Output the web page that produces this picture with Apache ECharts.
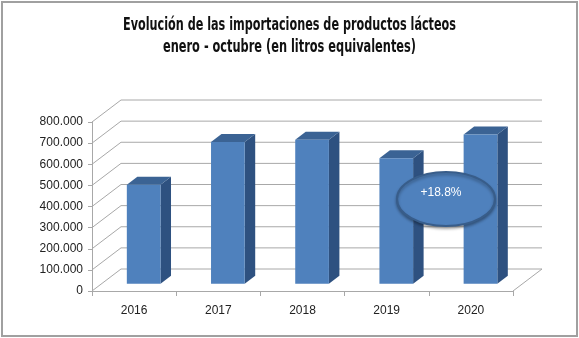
<!DOCTYPE html>
<html><head><meta charset="utf-8">
<script src="https://cdn.jsdelivr.net/npm/echarts@6/dist/echarts.min.js"></script>
<style>html,body{margin:0;padding:0;background:#fff}#c{width:579px;height:338px}</style>
</head><body><div id="c"></div>
<script>
const titleLines = ['Evolución de las importaciones de productos lácteos', 'enero - octubre (en litros equivalentes)'];
const categories = ['2016', '2017', '2018', '2019', '2020'];
const imports = [469000, 671000, 682000, 594000, 707000];
const yTicks = [0, 100000, 200000, 300000, 400000, 500000, 600000, 700000, 800000];
const annotation = '+18.8%';

const DX = 29, DY = 22;          // depth of floor / back wall
const BAR_FRONT = 0.33;          // front plane of bars as fraction of depth
const SDX = 10.5, SDY = 8;       // bar depth
const FRONT = '#4f81bd', SIDE = '#2e5180', TOP = '#3b6394';
const GRID = '#a8a8a8';
const FONT = '"Liberation Sans", Arial, sans-serif';
const TITLE_FONT = 'bold 17px "DejaVu Sans Condensed", "DejaVu Sans", sans-serif';
const TITLE_W = [333, 253];      // target widths of the condensed title lines
const TITLE_Y = [26, 48];

function fmt(v) { return String(v).replace(/\B(?=(\d{3})+(?!\d))/g, '.'); }

const ctx = document.createElement('canvas').getContext('2d');
ctx.font = TITLE_FONT;
const titleGraphics = titleLines.map((t, i) => {
  const w = ctx.measureText(t).width;
  return {type: 'text', x: 289.5, y: TITLE_Y[i], scaleX: TITLE_W[i] / w, originX: 0, z: 100,
    style: {text: t, fill: '#111', font: TITLE_FONT, align: 'center', verticalAlign: 'middle',
      textAlign: 'center', textVerticalAlign: 'middle'}};
});

const chart = echarts.init(document.getElementById('c'), null, {renderer: 'canvas'});

function renderWall(params, api) {
  const cs = params.coordSys;
  const y = api.coord([0, api.value(1)])[1];
  const children = [{
    type: 'polyline',
    shape: {points: [[cs.x, y], [cs.x + DX, y - DY], [cs.x + cs.width + DX, y - DY]]},
    style: {stroke: GRID, lineWidth: 1, fill: null}
  }];
  if (api.value(1) === 0) {
    children.push({
      type: 'line',
      shape: {x1: cs.x + cs.width, y1: y, x2: cs.x + cs.width + DX, y2: y - DY},
      style: {stroke: GRID, lineWidth: 1}
    });
  }
  return {type: 'group', children};
}

function renderBar(params, api) {
  const idx = api.value(0), v = api.value(1);
  const base = api.coord([idx, 0]);
  const top = api.coord([idx, v]);
  const band = api.size([1, 0])[0];
  const w = band * 0.4;
  const ox = DX * BAR_FRONT, oy = DY * BAR_FRONT;
  const x0 = base[0] - w / 2 + ox, x1 = x0 + w;
  const yb = base[1] - oy, yt = top[1] - oy;
  return {type: 'group', children: [
    {type: 'polygon', shape: {points: [[x1, yb], [x1 + SDX, yb - SDY], [x1 + SDX, yt - SDY], [x1, yt]]}, style: {fill: SIDE}},
    {type: 'polygon', shape: {points: [[x0, yt], [x0 + SDX, yt - SDY], [x1 + SDX, yt - SDY], [x1, yt]]}, style: {fill: TOP}},
    {type: 'rect', shape: {x: x0, y: yt, width: w, height: yb - yt}, style: {fill: FRONT}}
  ]};
}

chart.setOption({
  animation: false,
  backgroundColor: '#fff',
  grid: {left: 92, right: 66, top: 122, bottom: 47},
  xAxis: {
    type: 'category', data: categories, boundaryGap: true,
    axisLine: {lineStyle: {color: GRID}},
    axisTick: {show: true, length: 5, lineStyle: {color: GRID}},
    axisLabel: {margin: 14, fontSize: 12, fontFamily: FONT, color: '#222'},
    splitLine: {show: false}
  },
  yAxis: {
    type: 'value', min: 0, max: 800000, interval: 100000,
    axisLine: {show: true, lineStyle: {color: GRID}},
    axisTick: {show: true, length: 4, lineStyle: {color: GRID}},
    axisLabel: {margin: 9, fontSize: 12, fontFamily: FONT, color: '#222', formatter: fmt},
    splitLine: {show: false}
  },
  series: [
    {type: 'custom', renderItem: renderWall, data: yTicks.map(v => [0, v]), z: 1, silent: true},
    {type: 'custom', renderItem: renderBar, data: imports.map((v, i) => [i, v]), z: 2}
  ],
  graphic: titleGraphics.concat([
    {type: 'rect', shape: {x: 2, y: 2, width: 575, height: 334}, style: {fill: null, stroke: '#a0a0a0', lineWidth: 2}, z: 100},
    {type: 'ellipse', shape: {cx: 446, cy: 199, rx: 49, ry: 27},
      style: {fill: FRONT, stroke: '#385d8a', lineWidth: 2, shadowBlur: 3, shadowColor: 'rgba(0,0,0,0.3)', shadowOffsetY: 2}, z: 100},
    {type: 'text', x: 441, y: 193, z: 101,
      style: {text: annotation, fill: '#fff', font: '12px ' + FONT, align: 'center', verticalAlign: 'middle', textAlign: 'center', textVerticalAlign: 'middle'}}
  ])
});
</script></body></html>
